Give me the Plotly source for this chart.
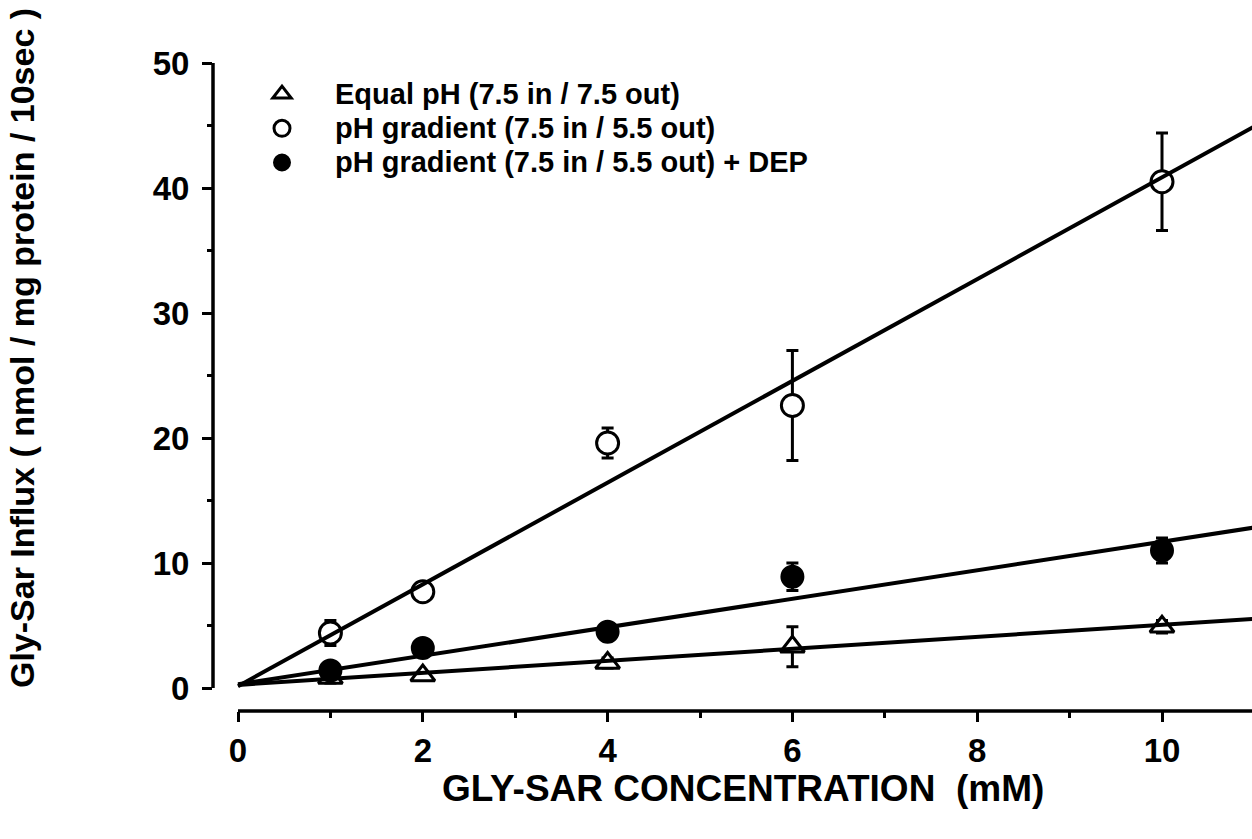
import plotly.graph_objects as go

# Gly-Sar concentration (mM)
conc = [1, 2, 4, 6, 10]

# Influx (nmol / mg protein / 10 sec) and SE for each condition
equal_ph = [0.8, 1.0, 2.0, 3.3, 4.9]
equal_ph_err = [0.4, 0.3, 0.4, 1.6, 0.5]

gradient = [4.4, 7.7, 19.6, 22.6, 40.5]
gradient_err = [1.0, 0.4, 1.2, 4.4, 3.9]

gradient_dep = [1.4, 3.2, 4.5, 8.9, 11.0]
gradient_dep_err = [0.4, 0.5, 0.5, 1.1, 1.0]

# Linear regression lines (endpoints at 0 and 11 mM)
fit_x = [0, 11]
fit_equal = [0.25, 5.53]
fit_gradient = [0.15, 44.92]
fit_dep = [0.3, 12.84]

x_ticks = [0, 2, 4, 6, 8, 10]
y_ticks = [0, 10, 20, 30, 40, 50]

series_names = [
    "Equal pH (7.5 in / 7.5 out)",
    "pH gradient (7.5 in / 5.5 out)",
    "pH gradient (7.5 in / 5.5 out) + DEP",
]

FONT = "Liberation Sans"
INK = "black"

fig = go.Figure()


def err(vals):
    return dict(type="data", array=vals, visible=True, color=INK,
                thickness=3, width=6)


fig.add_trace(go.Scatter(
    x=conc, y=equal_ph, mode="markers", name=" ",
    error_y=err(equal_ph_err),
    marker=dict(symbol="triangle-up", size=21, color="white",
                line=dict(color=INK, width=3)),
))
fig.add_trace(go.Scatter(
    x=conc, y=gradient, mode="markers", name=" ",
    error_y=err(gradient_err),
    marker=dict(symbol="circle", size=22, color="white",
                line=dict(color=INK, width=3)),
))
fig.add_trace(go.Scatter(
    x=conc, y=gradient_dep, mode="markers", name=" ",
    error_y=err(gradient_dep_err),
    marker=dict(symbol="circle", size=22, color=INK,
                line=dict(color=INK, width=2)),
))

for fy in (fit_equal, fit_gradient, fit_dep):
    fig.add_trace(go.Scatter(
        x=fit_x, y=fy, mode="lines", showlegend=False,
        line=dict(color=INK, width=4), hoverinfo="skip",
    ))

# Detached axis lines
fig.add_shape(type="line", xref="paper", yref="y", x0=0, x1=0,
              y0=y_ticks[0], y1=y_ticks[-1], line=dict(color=INK, width=3.5))
fig.add_shape(type="line", xref="x", yref="paper", x0=x_ticks[0], x1=11,
              y0=0, y1=0, line=dict(color=INK, width=3.5))

tick_font = dict(family=FONT, size=33, color=INK, weight="bold")

fig.update_xaxes(
    range=[-0.2706, 10.974], showgrid=False, zeroline=False, showline=False,
    tickmode="array", tickvals=x_ticks, ticktext=[str(v) for v in x_ticks],
    ticks="outside", ticklen=10, tickwidth=3, tickcolor=INK,
    ticklabelstandoff=0,
    minor=dict(dtick=1, tick0=0, ticks="outside", ticklen=6, tickwidth=3,
               tickcolor=INK, showgrid=False),
    tickfont=tick_font,
)
fig.update_yaxes(
    range=[-1.84, 51.84], showgrid=False, zeroline=False, showline=False,
    tickmode="array", tickvals=y_ticks, ticktext=[str(v) for v in y_ticks],
    ticks="outside", ticklen=10, tickwidth=3, tickcolor=INK,
    ticklabelstandoff=6,
    minor=dict(dtick=5, tick0=0, ticks="outside", ticklen=5, tickwidth=3,
               tickcolor=INK, showgrid=False),
    tickfont=tick_font,
)

fig.add_annotation(
    text="GLY-SAR CONCENTRATION  (mM)", xref="paper", yref="paper",
    x=(743 - 213) / 1039, y=-0.1162, showarrow=False, xanchor="center",
    yanchor="middle",
    font=dict(family=FONT, size=37, color=INK, weight="bold"),
)
fig.add_annotation(
    text="Gly-Sar Influx ( nmol / mg protein / 10sec )", xref="paper",
    yref="paper", x=-0.1838, y=0.541, textangle=-90, showarrow=False,
    xanchor="center", yanchor="middle",
    font=dict(family=FONT, size=34, color=INK, weight="bold"),
)

# Legend labels, one row per series next to the legend symbols
for i, label in enumerate(series_names):
    fig.add_annotation(
        text=label, xref="paper", yref="paper",
        x=(333 - 213) / 1039, y=(711 - (94 + 34 * i)) / 671,
        xanchor="left", yanchor="middle", showarrow=False,
        font=dict(family=FONT, size=29, color=INK, weight="bold"),
    )

fig.update_layout(
    width=1252, height=839,
    margin=dict(l=213, r=0, t=40, b=128),
    paper_bgcolor="white", plot_bgcolor="white",
    showlegend=True,
    legend=dict(
        x=(237 - 213) / 1039, y=(711 - 72) / 671, xanchor="left",
        yanchor="top", bgcolor="rgba(0,0,0,0)", itemwidth=80,
        tracegroupgap=0,
        font=dict(family=FONT, size=24, color=INK, weight="bold"),
    ),
)

fig.write_html("out.html")
